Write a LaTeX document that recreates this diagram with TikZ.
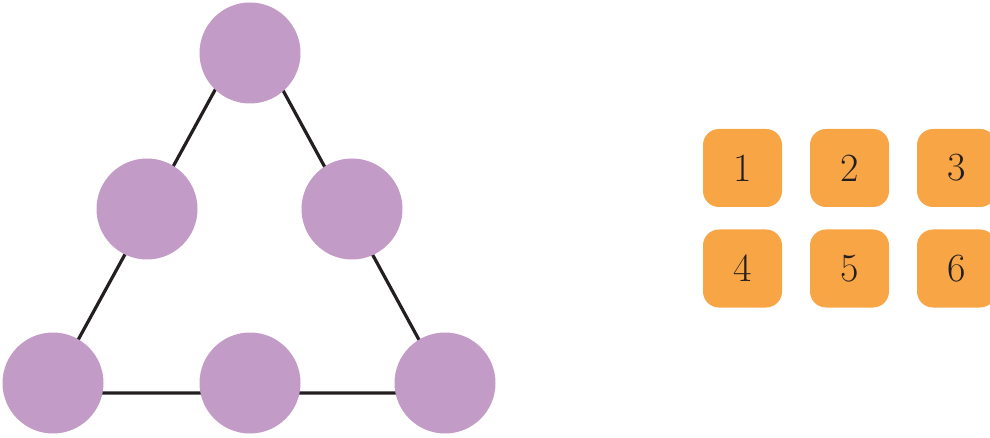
\documentclass[tikz,border=0pt]{standalone}
\usepackage{fontspec}
\definecolor{dotpurple}{HTML}{C39BC7}
\definecolor{tileorange}{HTML}{F8A546}
\definecolor{inkdark}{HTML}{231F20}
\tikzset{
  dot/.style={circle, fill=dotpurple, minimum size=101pt, inner sep=0pt},
  tile/.style={rectangle, rounded corners=16pt, fill=tileorange, minimum width=79pt, minimum height=78pt, inner sep=0pt, text=inkdark, font=\fontsize{40}{42}\selectfont},
  edge/.style={draw=inkdark, line width=3.2pt}
}
\begin{document}
\begin{tikzpicture}[x=1pt,y=-1pt]
\useasboundingbox (0,0) rectangle (990,438);
\clip (0,0) rectangle (990,438);
% triangle vertices
\coordinate (A) at (249,28);
\coordinate (B) at (49,393);
\coordinate (C) at (448,393);
\draw[edge, line join=miter] (A) -- (B) -- (C) -- cycle;
% circles
\node[dot] (top) at (250,53) {};
\node[dot] (ml) at (147,209) {};
\node[dot] (mr) at (352,209) {};
\node[dot] (bl) at (53,383) {};
\node[dot] (bm) at (250,383) {};
\node[dot] (br) at (445,383) {};
% tiles
\node[tile] (t1) at (742.5,168) {1};
\node[tile] (t2) at (849.5,168) {2};
\node[tile] (t3) at (956.5,168) {3};
\node[tile] (t4) at (742.5,268.5) {4};
\node[tile] (t5) at (849.5,268.5) {5};
\node[tile] (t6) at (956.5,268.5) {6};
\end{tikzpicture}
\end{document}
